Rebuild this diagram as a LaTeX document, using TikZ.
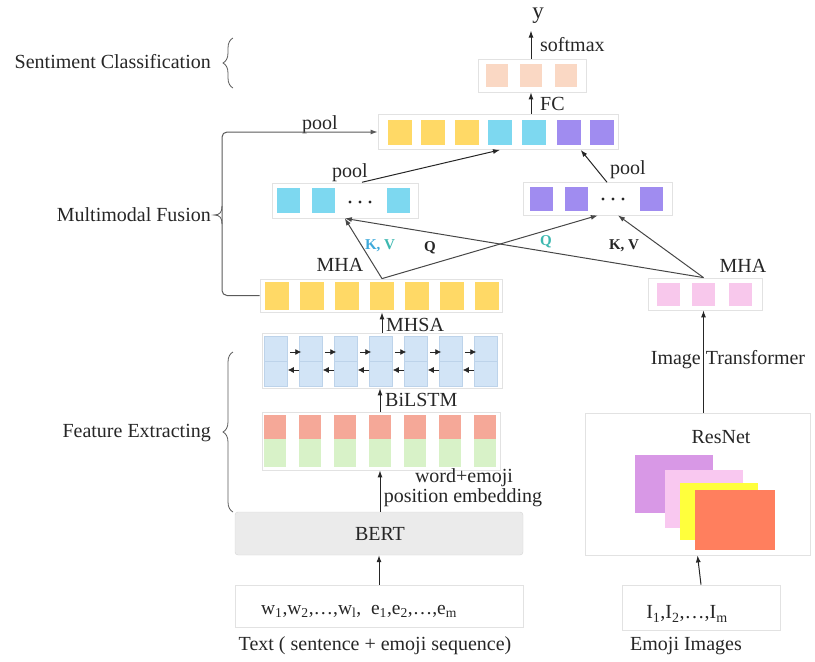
\documentclass[tikz,border=0pt]{standalone}
\usepackage{fontspec}
\setmainfont{Liberation Serif}
\usetikzlibrary{arrows.meta,decorations.pathreplacing}

\definecolor{ink}{HTML}{262626}
\definecolor{cyellow}{HTML}{FFD966}
\definecolor{ccyan}{HTML}{7DD8F0}
\definecolor{cpurple}{HTML}{A08CF0}
\definecolor{cpeach}{HTML}{FAD8C4}
\definecolor{cpink}{HTML}{F8C8EC}
\definecolor{cblue}{HTML}{D2E4F6}
\definecolor{cbluel}{HTML}{BDD3EA}
\definecolor{csalmon}{HTML}{F5A898}
\definecolor{cgreen}{HTML}{D8F2C8}
\definecolor{cplum}{HTML}{D898E6}
\definecolor{clilac}{HTML}{F9C8F0}
\definecolor{clemon}{HTML}{FFFF3C}
\definecolor{ccoral}{HTML}{FF7F5E}
\definecolor{kblue}{HTML}{3FA9DA}
\definecolor{vteal}{HTML}{3DB8B0}
\definecolor{frame}{HTML}{E2E2E2}
\definecolor{bertfill}{HTML}{EBEBEB}
\definecolor{bertline}{HTML}{D4D4D4}
\definecolor{bracegray}{HTML}{5A5A5A}

\tikzset{
  lbl/.style={font=\fontsize{20}{24}\selectfont, text=ink, inner sep=0pt},
  attn/.style={font=\bfseries\fontsize{15}{18}\selectfont, inner sep=0pt},
  rowbox/.style={draw=frame, line width=0.8pt, inner sep=0pt},
  sq/.style={inner sep=0pt, draw=none},
  half/.style={inner sep=0pt, fill=cblue, draw=cbluel, line width=0.5pt,
               minimum width=23pt, minimum height=25pt},
  arr/.style={-{Latex[length=7pt,width=5pt]}, line width=1pt, draw=ink},
  xarr/.style={-{Latex[length=7pt,width=5pt]}, line width=1pt, draw=ink!85},
  tinyarr/.style={-{Latex[length=6pt,width=6pt]}, line width=0.8pt, draw=ink},
  brc/.style={draw=bracegray, line width=0.8pt},
  dot/.style={fill=ink}
}

\begin{document}
\begin{tikzpicture}[x=1pt,y=-1pt]
\useasboundingbox (0,0) rectangle (815,662);

% ---------- output layer ----------
\node[rowbox, minimum width=108pt, minimum height=33pt] (outrow) at (532,75.5) {};
\foreach \x [count=\i] in {497,531,566}
  \node[sq, fill=cpeach, minimum width=22pt, minimum height=23pt] (o\i) at (\x,75.5) {};
\node[font=\fontsize{23}{26}\selectfont, text=ink, inner sep=0pt] (ylab) at (538,16) {y};
\draw[arr] (o2.north |- outrow.north) -- ++(0,-28);
\node[lbl, anchor=west] (smax) at (540,45) {softmax};

% ---------- fused vector ----------
\node[rowbox, minimum width=240pt, minimum height=35pt] (toprow) at (498,132) {};
\foreach \x/\c [count=\i] in {399.5/cyellow,432.5/cyellow,466.5/cyellow,500/ccyan,534/ccyan,568.5/cpurple,601.5/cpurple}
  \node[sq, fill=\c, minimum width=24pt, minimum height=25pt] (t\i) at (\x,132) {};
\draw[arr] (o2 |- toprow.north) -- (o2 |- outrow.south);
\node[lbl, anchor=west] (fc) at (540,104) {FC};

% ---------- text-side attention output ----------
\node[rowbox, minimum width=146pt, minimum height=35pt] (crow) at (345,200.5) {};
\foreach \x [count=\i] in {288.5,323.5,398.5}
  \node[sq, fill=ccyan, minimum width=23pt, minimum height=25pt] (c\i) at (\x,200.5) {};
\node[sq, minimum width=30pt, minimum height=10pt] (cdots) at (360,202) {};
\foreach \dx in {-10,0,10} \fill[dot] ([xshift=\dx pt]cdots.center) circle (1.7pt);

% ---------- image-side attention output ----------
\node[rowbox, minimum width=149pt, minimum height=33pt] (prow) at (597.5,198.5) {};
\foreach \x [count=\i] in {541.5,576.5,651.5}
  \node[sq, fill=cpurple, minimum width=23pt, minimum height=24pt] (pu\i) at (\x,198.5) {};
\node[sq, minimum width=30pt, minimum height=10pt] (pdots) at (613,199) {};
\foreach \dx in {-10,0,10} \fill[dot] ([xshift=\dx pt]pdots.center) circle (1.7pt);

% pooling into the fused vector
\node[lbl] (pool1) at (320,125) {pool};
\node[lbl] (pool2) at (350,173) {pool};
\node[lbl] (pool3) at (628,170) {pool};
\draw[arr] ([xshift=-6pt]pool2.south east) -- (t4.south |- toprow.south);
\draw[arr] ([xshift=-3pt,yshift=-3pt]pool3.south west) -- (t6.south east |- toprow.south);

% ---------- text features after MHSA ----------
\node[rowbox, minimum width=242pt, minimum height=33pt] (yrow) at (381,295.5) {};
\foreach \i in {1,...,7}
  \node[sq, fill=cyellow, minimum width=24pt, minimum height=28pt] (y\i) at ({277+35*(\i-1)},295.5) {};
\node[lbl] (mha1) at (340,265) {MHA};

% ---------- image features after the transformer ----------
\node[rowbox, minimum width=114pt, minimum height=32pt] (pkrow) at (705,294) {};
\foreach \x [count=\i] in {668.5,703.5,740}
  \node[sq, fill=cpink, minimum width=23pt, minimum height=23pt] (pk\i) at (\x,294) {};
\node[lbl] (mha2) at (743,266) {MHA};

% cross-modal attention
\draw[xarr] (y4 |- yrow.north) -- (crow.south -| cdots.west);
\draw[xarr] (y4 |- yrow.north) -- (prow.south -| pdots.west);
\draw[xarr] (pk2 |- pkrow.north) -- (crow.south -| cdots.west);
\draw[xarr] (pk2 |- pkrow.north) -- ([xshift=5pt]prow.south -| pdots.center);
\node[attn] (kv1) at (380,246) {\textcolor{kblue}{K,} \textcolor{vteal}{V}};
\node[attn, text=ink] (q1) at (430,248) {Q};
\node[attn, text=vteal] (q2) at (546,242) {Q};
\node[attn, text=ink] (kv2) at (624,246) {K, V};

% ---------- BiLSTM ----------
\node[rowbox, minimum width=240pt, minimum height=55pt] (brow) at (382,360.5) {};
\foreach \i in {1,...,7} {
  \node[half] (bu\i) at ({276+35*(\i-1)},348.5) {};
  \node[half] (bl\i) at ({276+35*(\i-1)},373.5) {};
}
\foreach \i [evaluate=\i as \j using int(\i+1)] in {1,...,6} {
  \draw[tinyarr] ([xshift=2pt,yshift=-3.5pt]bu\i.east) -- ([xshift=2pt,yshift=-3.5pt]bu\j.west);
  \draw[tinyarr] ([xshift=0pt,yshift=3.5pt]bl\j.west) -- ([xshift=0pt,yshift=3.5pt]bl\i.east);
}
\draw[arr] (y4 |- brow.north) -- (y4 |- yrow.south);
\node[lbl, anchor=west] (mhsa) at (386,325) {MHSA};

% ---------- embeddings ----------
\node[rowbox, minimum width=238pt, minimum height=58pt] (erow) at (381,441) {};
\foreach \i in {1,...,7} {
  \node[sq, fill=csalmon, minimum width=22pt, minimum height=24pt] (es\i) at ({275+35*(\i-1)},427) {};
  \node[sq, fill=cgreen, minimum width=22pt, minimum height=28pt] (eg\i) at ({275+35*(\i-1)},453) {};
}
\draw[arr] (es4 |- erow.north) -- (es4 |- brow.south);
\node[lbl, anchor=west] (bilstm) at (385,400) {BiLSTM};

% ---------- BERT and text input ----------
\node[draw=bertline, fill=bertfill, rounded corners=3pt, minimum width=288pt, minimum height=43pt, inner sep=0pt] (bert) at (379,533.5) {};
\node[lbl] (bertlab) at (380,534) {BERT};
\draw[arr] (bert.north -| es4) -- (erow.south -| es4);
\node[lbl] (we1) at (464,478) {word+emoji};
\node[lbl] (we2) at (463,498) {position embedding};

\node[rowbox, minimum width=288pt, minimum height=42pt] (tbox) at (379,606) {};
\node[font=\fontsize{19.5}{22}\selectfont, text=ink, inner sep=0pt] (tin) at (359,611)
  {w\textsubscript{1},w\textsubscript{2},\dots,w\textsubscript{l}, \ e\textsubscript{1},e\textsubscript{2},\dots,e\textsubscript{m}};
\draw[arr] (tbox.north) -- (bert.south);
\node[lbl] (tcap) at (375,646) {Text ( sentence + emoji sequence)};

% ---------- image branch ----------
\node[rowbox, minimum width=225pt, minimum height=142pt] (resnet) at (697.5,484) {};
\node[lbl] (reslab) at (721,437) {ResNet};
\node[sq, fill=cplum, minimum width=78pt, minimum height=58pt] (r1) at (674,484) {};
\node[sq, fill=clilac, minimum width=78pt, minimum height=58pt] (r2) at (704,499) {};
\node[sq, fill=clemon, minimum width=78pt, minimum height=57pt] (r3) at (719,511.5) {};
\node[sq, fill=ccoral, minimum width=80pt, minimum height=60pt] (r4) at (735,520) {};
\draw[arr] (resnet.north -| pk2) -- (pkrow.south -| pk2);
\node[lbl] (itrans) at (728,360) {Image Transformer};

\node[rowbox, minimum width=158pt, minimum height=45pt] (ebox) at (701,607.5) {};
\node[font=\fontsize{20}{22}\selectfont, text=ink, inner sep=0pt] (iin) at (687,614)
  {I\textsubscript{1},I\textsubscript{2},\dots,I\textsubscript{m}};
\draw[arr] (ebox.north) -- (resnet.south);
\node[lbl] (icap) at (686,646) {Emoji Images};

% ---------- stage labels ----------
\node[lbl, anchor=east] (stsent) at (211,62) {Sentiment Classification};
\draw[brc, decorate, decoration={brace, amplitude=10pt}] (233,88) -- (233,38);

\node[lbl, anchor=east] (stfuse) at (211,215) {Multimodal Fusion};
\draw[arr, draw=bracegray, rounded corners=5pt] (yrow.west) -- (222,295.5) -- (222,132) -- (toprow.west);
\draw[brc] (222,224) .. controls (222,218) and (220,215) .. (214,215)
           .. controls (220,215) and (222,212) .. (222,206);

\node[lbl, anchor=east] (stfeat) at (211,433) {Feature Extracting};
\draw[brc, decorate, decoration={brace, amplitude=10pt}] (233,512) -- (233,352);
\end{tikzpicture}
\end{document}
